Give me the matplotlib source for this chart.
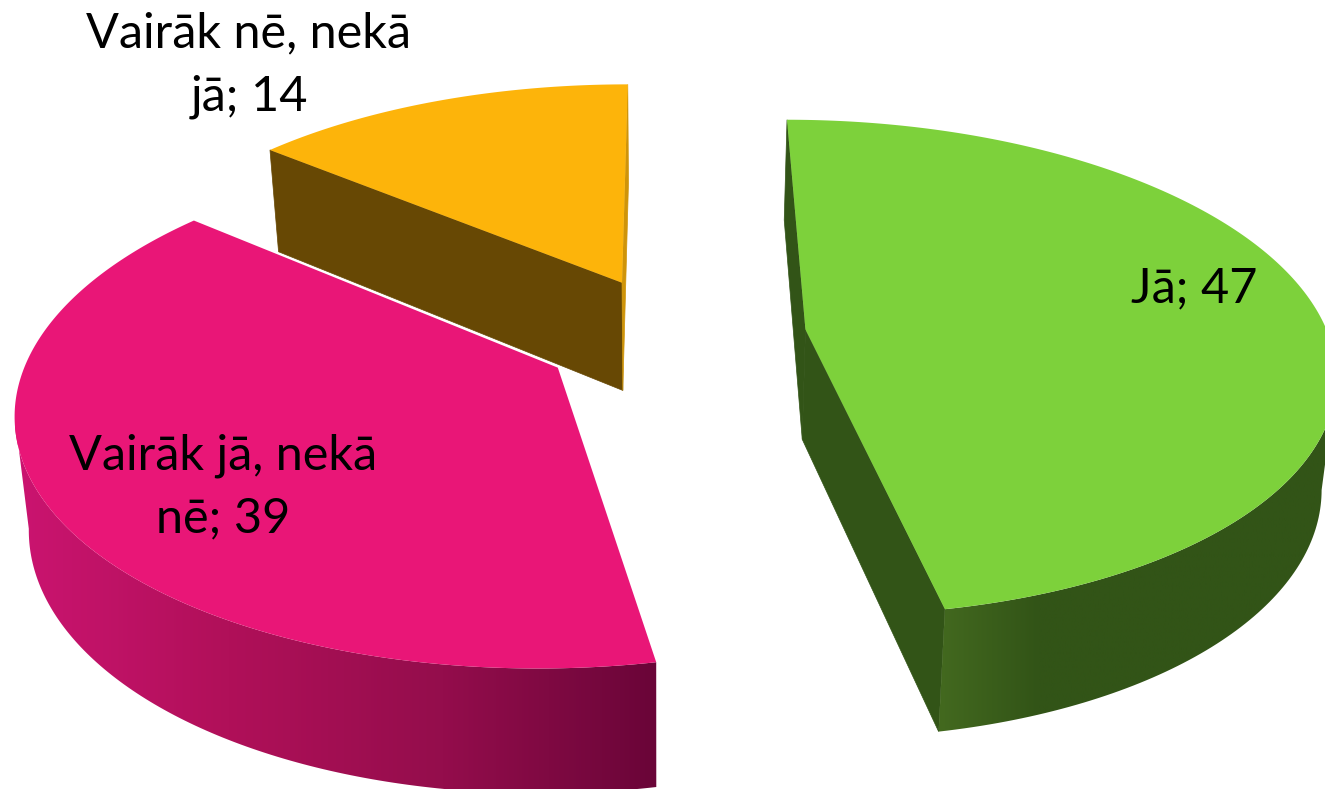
import numpy as np
import matplotlib.pyplot as plt
from matplotlib.patches import Polygon
from matplotlib.colors import LinearSegmentedColormap

# Data
labels = ['Jā; 47', 'Vairāk jā, nekā\nnē; 39', 'Vairāk nē, nekā\njā; 14']
values = [47, 39, 14]
top_colors = ['#7dd13b', '#e91677', '#fdb40a']
wall_colors = ['#325417', '#6a0538', '#674804']
start_angle = 0.0268
explode = [0.2509, 0.2563, 0.2464]

# Perspective of the pie plane, in pixels
cx, cy = 675.34, 335.25
sx, sy = 522.9, 243.65
persp = 0.1535
skew = -1.6


def project(u, v):
    w = 1 + persp * v
    return cx + (sx * u + skew * v) / w, cy - sy * v / w


def drop(x, y):
    # bottom of the pie, directly below a point of the top face
    return x + (660 - x) * 0.022, y + 95 + 0.045 * y


fig = plt.figure(figsize=(13.25, 7.89), dpi=100)
ax = fig.add_axes([0, 0, 1, 1])
ax.set_xlim(0, 1325)
ax.set_ylim(789, 0)
ax.axis('off')

fractions = np.array(values) / sum(values) * 360
starts = start_angle + np.concatenate([[0], np.cumsum(fractions)[:-1]])

faces = []
for a0, ang, e in zip(starts, fractions, explode):
    mid = np.radians(a0 + ang / 2)
    ou, ov = e * np.sin(mid), e * np.cos(mid)
    th = np.radians(np.linspace(a0, a0 + ang, 200))
    ax_x, ax_y = project(ou, ov)
    arc_x, arc_y = project(ou + np.sin(th), ov + np.cos(th))
    faces.append((ax_x, ax_y, arc_x, arc_y))


def wall(xs, ys, color):
    bx, by = drop(xs, ys)
    pts = np.column_stack([np.r_[xs, bx[::-1]], np.r_[ys, by[::-1]]])
    ax.add_patch(Polygon(pts, closed=True, fc=color, ec=color, lw=0.5))


def gradient_wall(xs, ys, colors):
    bx, by = drop(xs, ys)
    pts = np.column_stack([np.r_[xs, bx[::-1]], np.r_[ys, by[::-1]]])
    clip = Polygon(pts, closed=True, fc='none', ec='none')
    ax.add_patch(clip)
    x0, x1 = pts[:, 0].min(), pts[:, 0].max()
    y0, y1 = pts[:, 1].min(), pts[:, 1].max()
    cmap = LinearSegmentedColormap.from_list('wall', colors)
    im = ax.imshow(np.linspace(0, 1, 256)[None, :], cmap=cmap, aspect='auto',
                   extent=[x0, x1, y1, y0], zorder=1)
    im.set_clip_path(clip)
    ax.set_xlim(0, 1325)
    ax.set_ylim(789, 0)


# orange slice
ax_x, ax_y, arc_x, arc_y = faces[2]
wall(np.array([arc_x[0], ax_x]), np.array([arc_y[0], ax_y]), wall_colors[2])
wall(np.array([ax_x, arc_x[-1]]), np.array([ax_y, arc_y[-1]]), '#cf9409')
ax.fill(np.r_[ax_x, arc_x], np.r_[ax_y, arc_y], color=top_colors[2], lw=0, zorder=3)

# pink slice
ax_x, ax_y, arc_x, arc_y = faces[1]
left = np.argmin(arc_x)
keep = np.arange(0, left + 1)
gradient_wall(arc_x[keep], arc_y[keep], ['#cb1470', '#b01059', '#940d4c', '#6a0538'])
ax.fill(np.r_[ax_x, arc_x], np.r_[ax_y, arc_y], color=top_colors[1], lw=0, zorder=3)

# green slice
ax_x, ax_y, arc_x, arc_y = faces[0]
wall(np.array([arc_x[0], ax_x]), np.array([arc_y[0], ax_y]), wall_colors[0])
wall(np.array([ax_x, arc_x[-1]]), np.array([ax_y, arc_y[-1]]), wall_colors[0])
right = np.argmax(arc_x)
keep = np.arange(right, len(arc_x))
gradient_wall(arc_x[keep], arc_y[keep], ['#43691f', '#325417', '#325417', '#325417', '#325417'])
ax.fill(np.r_[ax_x, arc_x], np.r_[ax_y, arc_y], color=top_colors[0], lw=0, zorder=3)

# Labels
label_pos = [(1194, 288), (223, 487), (249, 65)]
for text, (x, y) in zip(labels, label_pos):
    ax.text(x, y, text, ha='center', va='center', fontsize=35, family='Lato',
            linespacing=1.52, color='black', zorder=5)

plt.savefig('out.png', dpi=100)
